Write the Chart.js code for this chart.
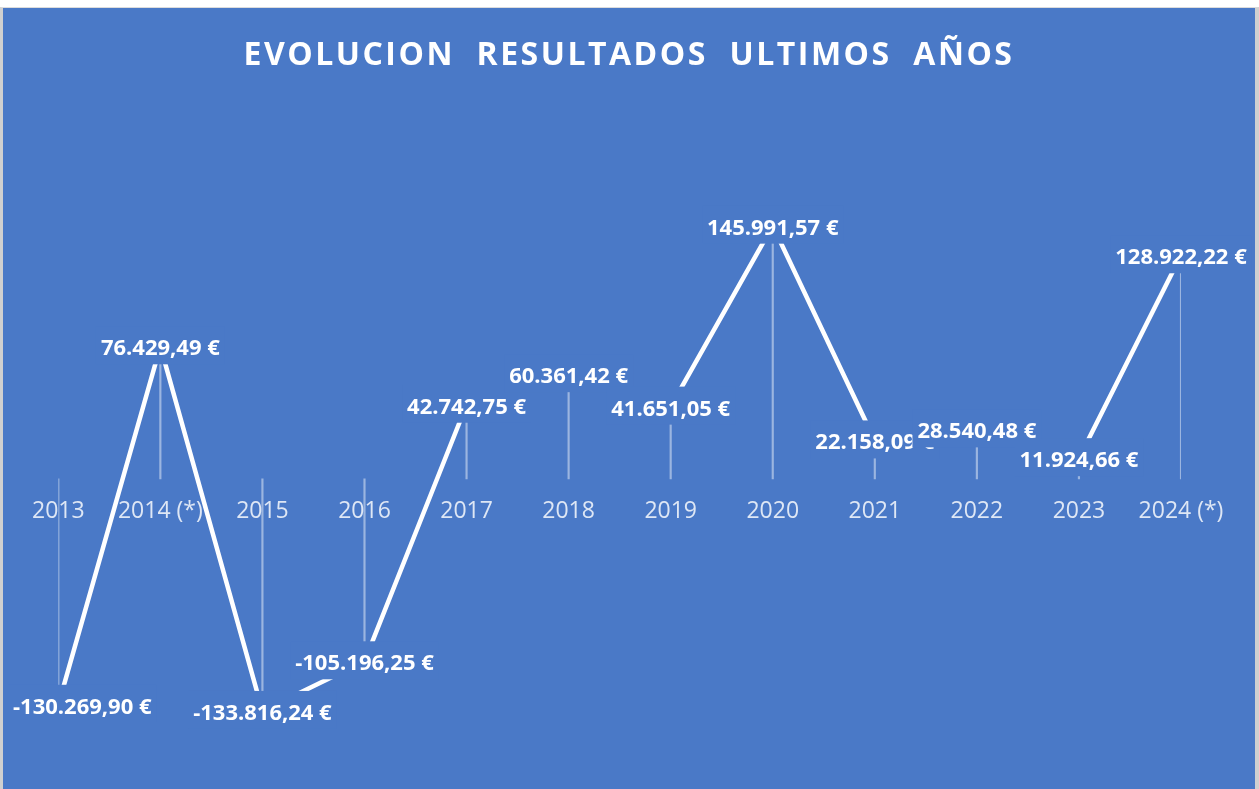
<!DOCTYPE html>
<html lang="es"><head><meta charset="utf-8">
<title>Evolución resultados</title>
<script src="https://cdn.jsdelivr.net/npm/chart.js@4.4.1/dist/chart.umd.min.js"></script>
<style>
html,body{margin:0;padding:0;background:#fff;width:1259px;height:789px;overflow:hidden;}
#frame{position:absolute;left:0;top:7px;width:1259px;height:782px;box-sizing:border-box;border-left:3px solid #d0d0d0;border-right:4px solid #d0d0d0;border-top:1px solid #dcdcdc;background:#4A79C7;}
#c{position:absolute;left:0;top:0;}
#title{position:absolute;left:0;top:29px;width:1252px;text-align:center;font:700 32px/32px "Open Sans",sans-serif;letter-spacing:2.5px;color:#fff;white-space:pre;margin:0;}
</style></head>
<body>
<div id="frame">
  <canvas id="c" width="1252" height="781"></canvas>
  <div id="title">EVOLUCION  RESULTADOS  ULTIMOS  AÑOS</div>
</div>
<script>
const categories = ['2013','2014 (*)','2015','2016','2017','2018','2019','2020','2021','2022','2023','2024 (*)'];
const resultados = [-130269.90, 76429.49, -133816.24, -105196.25, 42742.75, 60361.42, 41651.05, 145991.57, 22158.09, 28540.48, 11924.66, 128922.22];
const yMin = -150000;
const yMax = 200000;

const BG = '#4A79C7';

function fmtEuro(v){
  const neg = v < 0;
  const parts = Math.abs(v).toFixed(2).split('.');
  const ent = parts[0].replace(/\B(?=(\d{3})+(?!\d))/g, '.');
  return (neg ? '-' : '') + ent + ',' + parts[1] + ' €';
}

const boxedLabels = {
  id: 'boxedLabels',
  afterDatasetsDraw(chart){
    const meta = chart.getDatasetMeta(0);
    const ctx = chart.ctx;
    ctx.save();
    ctx.font = '700 22px "Open Sans"';
    ctx.textBaseline = 'alphabetic';
    ctx.textAlign = 'left';
    meta.data.forEach((pt, i) => {
      const txt = fmtEuro(resultados[i]);
      const w = ctx.measureText(txt).width;
      let left = pt.x - w / 2;
      if (left < 10) left = 10;
      if (left + w > chart.width - 8) left = chart.width - 8 - w;
      const cy = pt.y + 1;
      ctx.fillStyle = BG;
      ctx.fillRect(left - 5, cy - 21, w + 10, 38);
      ctx.fillStyle = '#ffffff';
      ctx.fillText(txt, left, cy + 8);
    });
    ctx.restore();
  }
};

Chart.defaults.font.family = '"Open Sans"';

new Chart(document.getElementById('c'), {
  data: {
    labels: categories,
    datasets: [
      {
        type: 'line',
        label: 'Resultado',
        data: resultados,
        borderColor: '#ffffff',
        borderWidth: 4.5,
        pointRadius: 0,
        tension: 0,
        borderCapStyle: 'butt',
        borderJoinStyle: 'bevel',
        clip: false,
        order: 0
      },
      {
        type: 'bar',
        label: 'Líneas de unión',
        data: resultados,
        backgroundColor: 'rgba(255,255,255,0.45)',
        borderWidth: 0,
        barThickness: 1.5,
        order: 1
      }
    ]
  },
  options: {
    responsive: false,
    animation: false,
    layout: { padding: { top: 124, bottom: 50, left: 55.3, right: 74 } },
    plugins: {
      legend: { display: false },
      title: { display: false },
      tooltip: { enabled: false }
    },
    scales: {
      x: {
        type: 'category',
        offset: false,
        position: { y: 0 },
        grid: { display: false, drawTicks: false },
        border: { display: false },
        ticks: {
          color: 'rgba(255,255,255,0.82)',
          font: { family: '"Open Sans"', size: 23 },
          padding: 19,
          maxRotation: 0,
          autoSkip: false
        }
      },
      y: { display: false, min: yMin, max: yMax }
    }
  },
  plugins: [boxedLabels]
});
</script>
</body></html>
